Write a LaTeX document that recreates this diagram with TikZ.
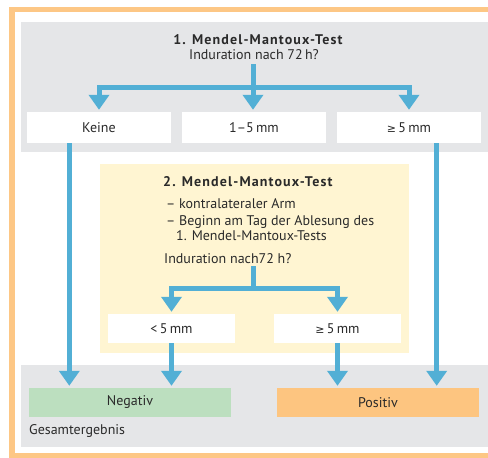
\documentclass[tikz,border=0pt]{standalone}
\usepackage{fontspec}
\setmainfont{PT Sans}
\newfontfamily\symfont{DejaVu Sans}
\newfontfamily\headfont[LetterSpace=8]{PT Sans Bold}
\usetikzlibrary{arrows.meta,calc}
\definecolor{cblue}{HTML}{52AFD5}
\definecolor{cgrey}{HTML}{E5E6E8}
\definecolor{cframe}{HTML}{FDC785}
\definecolor{cyellow}{HTML}{FFF5D2}
\definecolor{cgreen}{HTML}{BCDFBF}
\definecolor{corange}{HTML}{FDC580}
\definecolor{ctext}{HTML}{2A2A2A}
\tikzset{
  txt/.style={inner sep=0pt, text=ctext, font=\fontsize{14}{16}\selectfont},
  boldtxt/.style={txt, font=\fontsize{14}{16}\selectfont\headfont},
  wbox/.style={txt, fill=white, minimum width=144pt, minimum height=31pt},
  sbox/.style={txt, fill=white, minimum width=127pt, minimum height=29pt},
  rbox/.style={txt, minimum width=202pt, minimum height=29pt},
  flow/.style={draw=cblue, line width=5pt, line join=miter},
  tip/.tip={Triangle[width=20pt,length=15pt]},
  flowarrow/.style={flow, -tip, shorten >=2pt},
  flowbracket/.style={flow, tip-tip, shorten >=2pt, shorten <=2pt}
}
\newcommand{\gesym}{{\symfont\fontsize{11}{12}\selectfont ≥}}
\begin{document}
\begin{tikzpicture}[x=1pt,y=-1pt]
\useasboundingbox (0,0) rectangle (488,458);
\fill[white] (0,0) rectangle (488,458);
% frame
\draw[cframe, line width=5.5pt] (488,9.7) -- (12,9.7) -- (12,456) -- (488,456);
% backgrounds
\fill[cgrey] (21,22) rectangle (488,152);
\fill[cgrey] (21,365) rectangle (488,447);
\fill[cyellow] (100,164) rectangle (409,353);
% top section
\node[boldtxt, anchor=base] (t1) at (258,44.3) {1. Mendel-Mantoux-Test};
\node[txt, anchor=base] (t2) at (254,59.3) {Induration nach 72\,h?};
\coordinate (s1) at (253,64);
\coordinate (j1) at (253,87);
\node[wbox] (keine) at (99,127.5) {Keine};
\node[wbox] (m15) at (254,127.5) {1–5\,mm};
\node[wbox] (ge5) at (409,127.5) {\gesym\,5\,mm};
\draw[flowarrow] (s1) -- (s1 |- m15.north);
\draw[flowbracket] (keine.north) |- (j1) -| (ge5.north);
% second test
\node[boldtxt, anchor=base west] (y1) at (163,186) {2. Mendel-Mantoux-Test};
\node[txt, anchor=base west] (y2) at (166,208) {– kontralateraler Arm};
\node[txt, anchor=base west] (y3) at (166,225) {– Beginn am Tag der Ablesung des};
\node[txt, anchor=base west] (y4) at (176,240.7) {1. Mendel-Mantoux-Tests};
\node[txt, anchor=base west] (y5) at (164,263) {Induration nach72 h?};
\coordinate (s2) at (253,266);
\coordinate (j2) at (253,288);
\node[sbox] (lt5) at (171.5,328.5) {<\,5\,mm};
\node[sbox] (ge5b) at (337.5,328.5) {\gesym\,5\,mm};
\draw[flow] (s2) -- (j2);
\draw[flowbracket] (lt5.north) |- (j2) -| (ge5b.north);
% results
\node[rbox, fill=cgreen] (neg) at (130,402.5) {Negativ};
\node[rbox, fill=corange] (pos) at (378,402.5) {Positiv};
\node[txt, anchor=base west] (ges) at (29,434) {Gesamtergebnis};
\draw[flowarrow] ([xshift=42.5pt]keine.south west) -- ([xshift=42.5pt]keine.south west |- neg.north);
\draw[flowarrow] (lt5.south) -- (lt5.south |- neg.north);
\draw[flowarrow] (ge5b.south) -- (ge5b.south |- pos.north);
\draw[flowarrow] ([xshift=-44.5pt]ge5.south east) -- ([xshift=-44.5pt]ge5.south east |- pos.north);
\end{tikzpicture}
\end{document}
